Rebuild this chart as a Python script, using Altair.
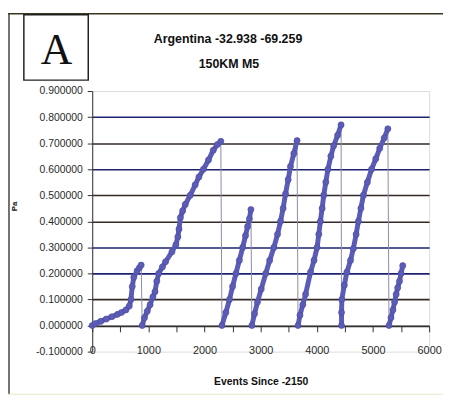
import altair as alt
import pandas as pd

# ---- data ----
seg1_x = [0, 60, 150, 250, 350, 450, 520, 600, 660, 690, 713, 740, 800, 840, 872]
seg1_y = [0.0, 0.008, 0.016, 0.025, 0.034, 0.043, 0.05, 0.06, 0.075, 0.10, 0.15, 0.185, 0.21, 0.222, 0.232]
seg2_x = [890, 930, 980, 1030, 1080, 1118, 1150, 1183, 1250, 1306, 1420, 1490, 1525, 1545, 1570,
          1610, 1658, 1746, 1834, 1900, 1980, 2070, 2156, 2230, 2290]
seg2_y = [0.0, 0.03, 0.055, 0.08, 0.11, 0.13, 0.17, 0.20, 0.225, 0.245, 0.283, 0.31, 0.34, 0.37, 0.414,
          0.44, 0.465, 0.50, 0.54, 0.57, 0.60, 0.635, 0.673, 0.695, 0.707]
seg3_x = [2310, 2380, 2445, 2500, 2560, 2620, 2680, 2730, 2767, 2800, 2826]
seg3_y = [0.0, 0.05, 0.10, 0.15, 0.20, 0.25, 0.30, 0.345, 0.38, 0.41, 0.445]
seg4_x = [2843, 2890, 2943, 3010, 3090, 3160, 3236, 3300, 3354, 3400, 3442, 3490, 3530, 3590, 3648]
seg4_y = [0.0, 0.045, 0.09, 0.14, 0.20, 0.25, 0.30, 0.35, 0.40, 0.45, 0.505, 0.56, 0.61, 0.66, 0.71]
seg5_x = [3665, 3700, 3750, 3800, 3888, 3950, 4005, 4035, 4063, 4095, 4123, 4160, 4198, 4250, 4300, 4370, 4432]
seg5_y = [0.0, 0.04, 0.08, 0.12, 0.205, 0.25, 0.30, 0.35, 0.40, 0.45, 0.50, 0.55, 0.60, 0.65, 0.69, 0.73, 0.77]
seg6_x = [4440, 4440, 4445, 4490, 4535, 4600, 4650, 4700, 4740, 4785, 4830, 4900, 4975, 5050, 5120, 5200, 5265]
seg6_y = [0.0, 0.05, 0.10, 0.155, 0.205, 0.25, 0.295, 0.35, 0.40, 0.45, 0.50, 0.55, 0.60, 0.64, 0.68, 0.72, 0.755]
seg7_x = [5285, 5320, 5355, 5385, 5413, 5440, 5472, 5500, 5530]
seg7_y = [0.0, 0.03, 0.06, 0.09, 0.12, 0.145, 0.17, 0.20, 0.23]

x_ticks = [0, 500, 1000, 1500, 2000, 2500, 3000, 3500, 4000, 4500, 5000, 5500, 6000]
y_ticks = [-0.1, 0.0, 0.1, 0.2, 0.3, 0.4, 0.5, 0.6, 0.7, 0.8, 0.9]

title_text = "Argentina -32.938 -69.259"
subtitle_text = "150KM M5"
x_title = "Events Since -2150"
y_title = "Pa"
panel_letter = "A"

segments = [(seg1_x, seg1_y), (seg2_x, seg2_y), (seg3_x, seg3_y), (seg4_x, seg4_y),
            (seg5_x, seg5_y), (seg6_x, seg6_y), (seg7_x, seg7_y)]
rows = []
for i, (xs, ys) in enumerate(segments):
    for xv, yv in zip(xs, ys):
        rows.append({"events": xv, "pa": yv, "seg": i + 1})
df = pd.DataFrame(rows)
df["order"] = range(len(df))

SANS = "Liberation Sans, Arial, sans-serif"
BLUE = "#5b5cb8"
W, H = 340, 263

x_scale = alt.Scale(domain=[0, 6000], nice=False, zero=False)
y_scale = alt.Scale(domain=[-0.1, 0.9], nice=False, zero=False)

navy_test = ("abs(datum.value-0.8)<0.01 || abs(datum.value-0.6)<0.01 || "
             "abs(datum.value-0.3)<0.01 || abs(datum.value-0.2)<0.01")
edge_test = "datum.value < -0.05 || datum.value > 0.85"

x_axis = alt.Axis(
    values=x_ticks,
    labelExpr="datum.value % 1000 == 0 ? format(datum.value, 'd') : ''",
    offset=-26,
    grid=False,
    domainColor="#333333",
    domainWidth=1,
    tickColor="#333333",
    tickSize=6,
    labelPadding=19,
    labelBaseline="middle",
    labelFont=SANS,
    labelFontSize=11,
    labelColor="#2a2a2a",
    labelOverlap=False,
    labelFlush=False,
    title=x_title,
    titleFont=SANS,
    titleFontSize=10.5,
    titleFontWeight="bold",
    titleColor="#111111",
    titleY=56,
    titleBaseline="middle",
)

y_axis = alt.Axis(
    values=y_ticks,
    labelExpr="replace(format(datum.value, '.6f'), '\u2212', '-')",
    grid=True,
    gridColor={"condition": {"test": navy_test, "value": "#1d2370"}, "value": "#332a26"},
    gridOpacity={"condition": {"test": edge_test, "value": 0}, "value": 1},
    gridWidth=1.6,
    domainColor="#333333",
    domainWidth=1,
    tickColor="#333333",
    tickSize=5,
    labelPadding=5,
    labelFont=SANS,
    labelFontSize=10.5,
    labelColor="#2a2a2a",
    title=y_title,
    titleFont=SANS,
    titleFontSize=8,
    titleFontWeight="bold",
    titleColor="#111111",
    titleAngle=270,
    titleBaseline="middle",
    titleX=-78,
    titleY=116,
)

X = alt.X("events:Q", scale=x_scale, axis=x_axis)
Y = alt.Y("pa:Q", scale=y_scale, axis=y_axis)

base = alt.Chart(df)

thin = base.mark_line(color="#8c8cab", strokeWidth=1).encode(x=X, y=Y, order="order:Q")
thick = base.mark_line(color=BLUE, strokeWidth=5, strokeCap="round", strokeJoin="round").encode(
    x=X, y=Y, detail="seg:N", order="order:Q")
pts = base.mark_circle(size=38, color=BLUE, opacity=1, stroke="#4a4a9c", strokeWidth=0.6).encode(x=X, y=Y)

one = alt.Chart(pd.DataFrame({"k": [0]}))

frame_top = one.mark_rule(color="#3a3520", strokeWidth=1.5).encode(
    x=alt.value(-85), x2=alt.value(355), y=alt.value(-78))
frame_left = one.mark_rule(color="#444444", strokeWidth=1.5).encode(
    x=alt.value(-84), y=alt.value(-78), y2=alt.value(306))
frame_bottom = one.mark_rule(color="#e8e4c8", strokeWidth=1).encode(
    x=alt.value(-85), x2=alt.value(355), y=alt.value(306))
letter_box = one.mark_rect(fill="white", stroke="#222222", strokeWidth=1.5).encode(
    x=alt.value(-69), x2=alt.value(-4), y=alt.value(-77), y2=alt.value(-11))
letter = one.mark_text(text=panel_letter, font="Liberation Serif, DejaVu Serif, serif",
                       fontSize=44, color="#111111", align="center", baseline="alphabetic").encode(
    x=alt.value(-36), y=alt.value(-27))
title1 = one.mark_text(text=title_text, font=SANS, fontSize=12.5, fontWeight="bold",
                       color="#111111", align="center", baseline="middle").encode(
    x=alt.value(137), y=alt.value(-52))
title2 = one.mark_text(text=subtitle_text, font=SANS, fontSize=12.5, fontWeight="bold",
                       color="#111111", align="center", baseline="middle").encode(
    x=alt.value(138), y=alt.value(-27))

chart = alt.layer(thin, thick, pts, frame_top, frame_left, frame_bottom, letter_box, letter,
                  title1, title2).properties(
    width=W,
    height=H,
    padding={"left": 85, "top": 82, "right": 14, "bottom": 44},
    autosize=alt.AutoSizeParams(type="none"),
).configure_view(
    stroke="#b5b5b5", strokeWidth=1, strokeDash=[2, 2]
).configure(background="white")

chart.save("out.html", embed_options={"renderer": "svg", "actions": False})
